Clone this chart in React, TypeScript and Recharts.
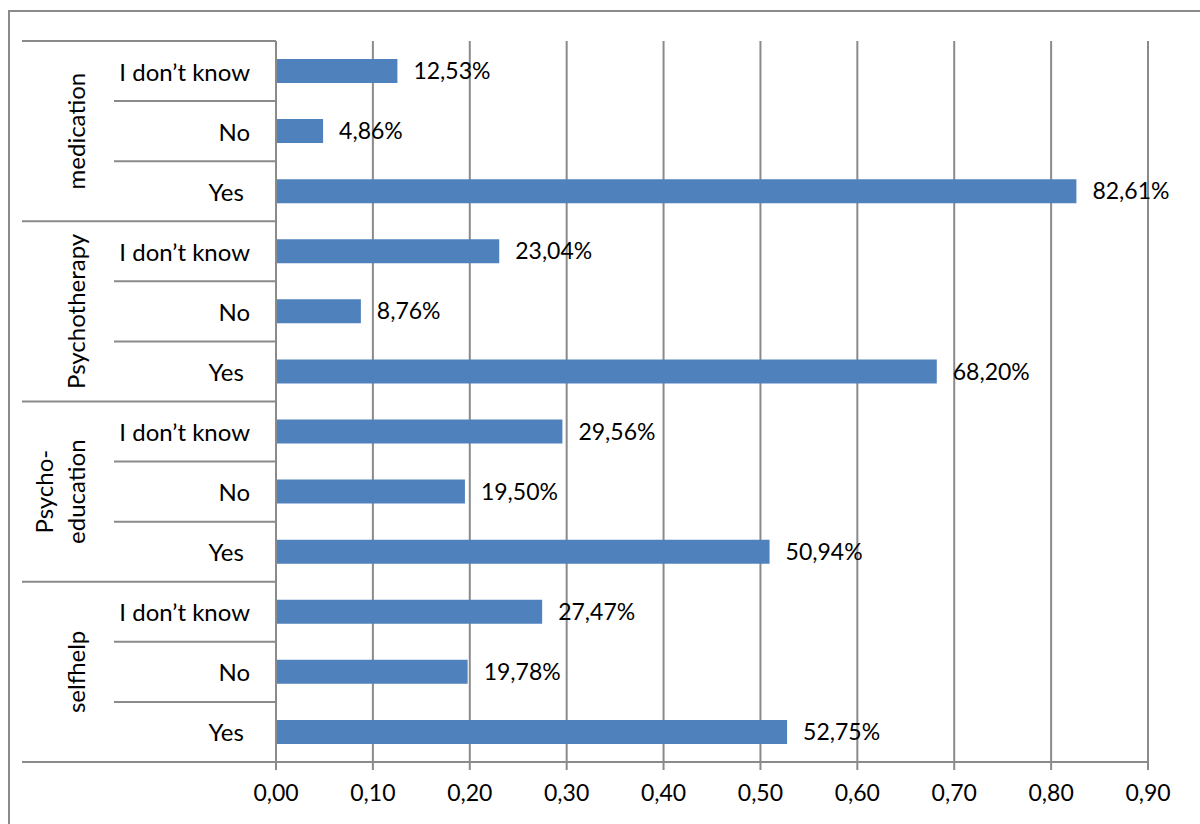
import React from 'react';
import { BarChart, Bar, XAxis, YAxis, CartesianGrid, LabelList } from 'recharts';

const groups = ['medication', 'Psychotherapy', 'Psycho-\neducation', 'selfhelp'];
const answers = ['I don’t know', 'No', 'Yes '];
const medication = [0.1253, 0.0486, 0.8261];
const psychotherapy = [0.2304, 0.0876, 0.682];
const psychoEducation = [0.2956, 0.195, 0.5094];
const selfhelp = [0.2747, 0.1978, 0.5275];
const xTicks = [0, 0.1, 0.2, 0.3, 0.4, 0.5, 0.6, 0.7, 0.8, 0.9];

const seriesByGroup = [medication, psychotherapy, psychoEducation, selfhelp];

const data = groups.flatMap((g, gi) =>
  answers.map((a, ai) => ({
    key: `${gi}-${ai}`,
    group: g,
    answer: a,
    value: seriesByGroup[gi][ai],
  }))
);

const FONT = 'Lato, "Liberation Sans", sans-serif';
const GRID = '#8a8a8a';

const fmtTick = (v: number) => v.toFixed(2).replace('.', ',');
const fmtPct = (v: number) => (v * 100).toFixed(2).replace('.', ',') + '%';

// category axis with the group level drawn to the left of the answers
const CategoryTick = (props: any) => {
  const { x, y, payload, index } = props;
  const half = payload && payload.offset ? payload.offset : 30;
  const row = data[index];
  const pos = index % answers.length;
  const isFirst = pos === 0;
  const isMiddle = pos === 1;
  const isLast = index === data.length - 1;
  const lines = row.group.split('\n');
  return (
    <g>
      <text
        x={x - 26}
        y={y}
        textAnchor="end"
        dominantBaseline="central"
        fontSize={24}
        fontFamily={FONT}
        fill="#000"
        style={{ whiteSpace: 'pre' }}
      >
        {row.answer}
      </text>
      <line
        x1={isFirst ? x - 254 : x - 162}
        x2={x}
        y1={y - half}
        y2={y - half}
        stroke={GRID}
        strokeWidth={2}
      />
      {isLast && (
        <line x1={x - 254} x2={x} y1={y + half} y2={y + half} stroke={GRID} strokeWidth={2} />
      )}
      {isMiddle &&
        lines.map((ln, li) => {
          const cx = x - 201 - (lines.length - 1 - li) * 32;
          return (
            <text
              key={li}
              x={cx}
              y={y}
              transform={`rotate(-90, ${cx}, ${y})`}
              textAnchor="middle"
              dominantBaseline="central"
              fontSize={24}
              fontFamily={FONT}
              fill="#000"
            >
              {ln}
            </text>
          );
        })}
    </g>
  );
};

export default function App() {
  return (
    <div style={{ position: 'absolute', left: 0, top: 0, width: 1200, height: 824, background: '#fff', overflow: 'hidden' }}>
      <div
        style={{
          position: 'absolute',
          left: 8,
          top: 10,
          width: 1200,
          height: 830,
          border: `2px solid ${GRID}`,
          boxSizing: 'border-box',
        }}
      />
      <div style={{ position: 'absolute', left: 0, top: 0 }}>
        <BarChart
          width={1200}
          height={824}
          data={data}
          layout="vertical"
          margin={{ top: 41, right: 52, bottom: 0, left: 0 }}
        >
          <CartesianGrid horizontal={false} stroke={GRID} strokeWidth={2} />
          <XAxis
            type="number"
            domain={[0, 0.9]}
            ticks={xTicks}
            tickFormatter={fmtTick}
            height={62}
            tickSize={8}
            tickMargin={15}
            stroke={GRID}
            strokeWidth={2}
            tick={{ fill: '#000', fontSize: 23, fontFamily: FONT }}
            interval={0}
          />
          <YAxis
            type="category"
            dataKey="key"
            width={276}
            tickLine={false}
            tickSize={0}
            tickMargin={0}
            stroke={GRID}
            strokeWidth={2}
            interval={0}
            tick={<CategoryTick />}
          />
          <Bar dataKey="value" fill="#4F81BD" barSize={24} isAnimationActive={false}>
            <LabelList
              dataKey="value"
              position="right"
              offset={16}
              formatter={(v: any) => fmtPct(Number(v))}
              fill="#000"
              fontSize={23}
              fontFamily={FONT}
            />
          </Bar>
        </BarChart>
      </div>
    </div>
  );
}
